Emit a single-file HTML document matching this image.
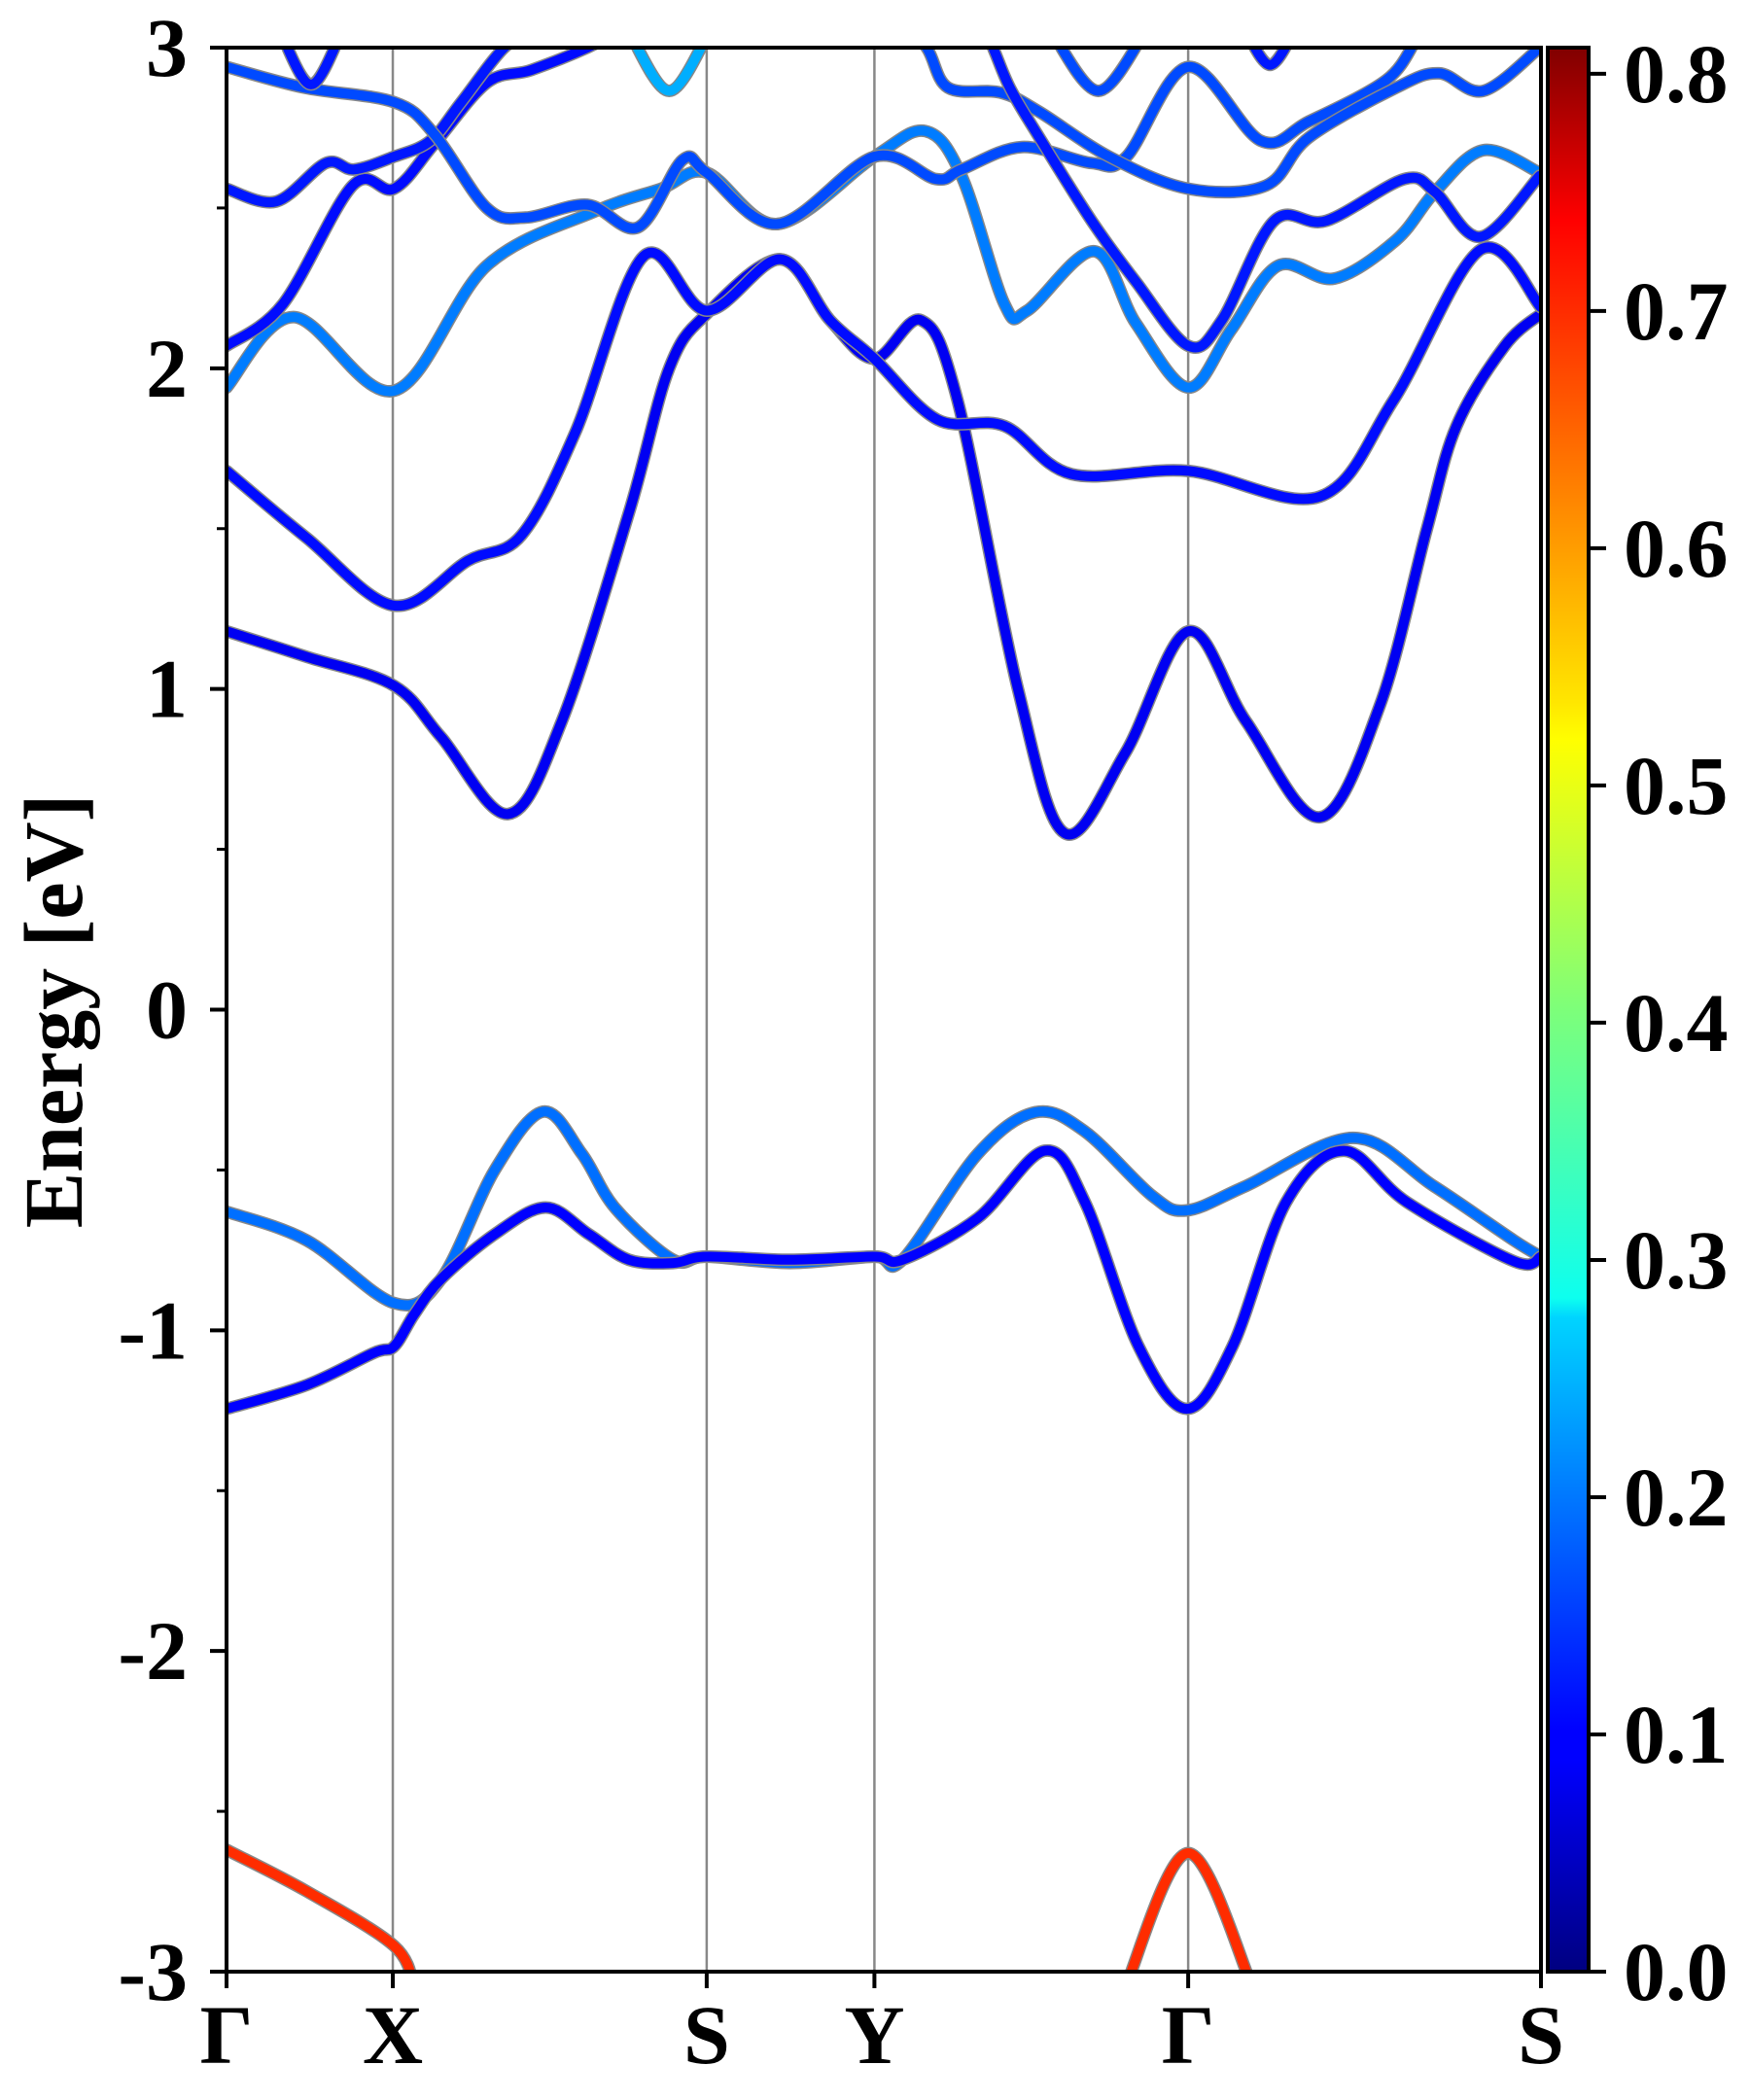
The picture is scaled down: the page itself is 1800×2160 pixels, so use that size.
<!DOCTYPE html>
<html><head><meta charset="utf-8"><title>Band structure</title>
<style>
html,body{margin:0;padding:0;background:#fff;}
svg{display:block;}
text{font-family:"Liberation Serif",serif;font-weight:bold;fill:#000;}
</style></head>
<body>
<svg id="chart" width="1800" height="2160" viewBox="0 0 1800 2160" xmlns="http://www.w3.org/2000/svg">
<defs>
<clipPath id="plotclip"><rect x="233" y="49" width="1352" height="1979"/></clipPath>
<linearGradient id="jet" x1="0" y1="1" x2="0" y2="0">
<stop offset="0" stop-color="#000080"/>
<stop offset="0.11" stop-color="#0000ff"/>
<stop offset="0.125" stop-color="#0000ff"/>
<stop offset="0.34" stop-color="#00d4ff"/>
<stop offset="0.35" stop-color="#0dffef"/>
<stop offset="0.5" stop-color="#7dff7a"/>
<stop offset="0.64" stop-color="#ffff00"/>
<stop offset="0.66" stop-color="#ffe600"/>
<stop offset="0.89" stop-color="#ff1300"/>
<stop offset="0.91" stop-color="#ff0000"/>
<stop offset="1" stop-color="#800000"/>
</linearGradient>
</defs>
<g id="gridlines"></g>
<g id="bands" clip-path="url(#plotclip)"></g>
<g id="axes"></g>
<text transform="translate(84,1040) rotate(-90)" text-anchor="middle" font-size="86">Energy [eV]</text>
<rect x="1592" y="49" width="42" height="1979" fill="url(#jet)" stroke="#000" stroke-width="4"/>
<g id="cbar"></g>
</svg>
<script>
// ---- data ----
const kLabels = ["Γ","X","S","Y","Γ","S"];
const kTicks = [0, 0.1265, 0.3653, 0.4929, 0.7316, 1.0];
const yTicks = [-3,-2,-1,0,1,2,3];
const yMinor = [-2.5,-1.5,-0.5,0.5,1.5,2.5];
const cTicks = [0,0.1,0.2,0.3,0.4,0.5,0.6,0.7,0.8];
const cTickLabels = ["0.0","0.1","0.2","0.3","0.4","0.5","0.6","0.7","0.8"];
// band k positions (path units 0..980) and energies (eV)
const bandK = [
 [0,60,125,160,200,236,265,290,333,358,420,483,504,560,603,640,690,716,760,840,900,960,980],
 [0,60,110,125,140,160,200,238,270,300,333,358,420,483,504,560,610,640,680,716,750,790,833,880,960,980],
 [0,60,125,160,210,250,300,330,358,413,450,483,518,545,590,625,670,717,760,815,860,895,917,953,980],
 [0,60,125,180,220,260,311,358,413,450,483,530,580,630,717,815,870,935,980],
 [0,50,125,194,275,324,358,411,483,521,548,580,597,647,678,717,749,784,826,872,901,937,979],
 [0,42,94,125,155,194,227,269,290],
 [0,37,74,95,125,152,175,207,230],
 [0,58,125,155,194,223,269,307,340,358,411,483,529,548,593,645,671,717,771,807,865,888,900],
 [500,522,538,577,606,658,717,775,807,872,904,937,979,990],
 [555,568,584,606,645,678,717,742,781,820,878,901,935,979],
 [40,63,86],[300,330,360],[615,650,685],[760,778,796],
 [0,60,125,140],[670,717,765]
];
const bandE = [
 [-0.63,-0.72,-0.915,-0.84,-0.50,-0.318,-0.45,-0.62,-0.78,-0.77,-0.79,-0.77,-0.78,-0.45,-0.32,-0.38,-0.58,-0.626,-0.55,-0.40,-0.55,-0.72,-0.77],
 [-1.245,-1.17,-1.07,-1.05,-0.95,-0.84,-0.70,-0.617,-0.70,-0.78,-0.79,-0.77,-0.78,-0.77,-0.78,-0.65,-0.44,-0.60,-1.05,-1.245,-1.05,-0.60,-0.44,-0.60,-0.785,-0.77],
 [1.18,1.10,1.01,0.85,0.61,0.90,1.55,2.00,2.17,2.34,2.15,2.03,2.15,1.90,1.00,0.55,0.80,1.18,0.90,0.60,0.95,1.50,1.82,2.07,2.17],
 [1.68,1.47,1.26,1.40,1.48,1.80,2.35,2.18,2.34,2.15,2.03,1.84,1.82,1.67,1.68,1.60,1.90,2.37,2.19],
 [1.94,2.16,1.93,2.32,2.49,2.56,2.61,2.45,2.66,2.74,2.60,2.20,2.18,2.365,2.14,1.94,2.12,2.32,2.28,2.40,2.55,2.68,2.61],
 [2.07,2.20,2.57,2.56,2.70,2.89,2.93,3.00,3.05],
 [2.56,2.52,2.64,2.62,2.66,2.71,2.83,3.00,3.05],
 [2.94,2.875,2.83,2.73,2.50,2.47,2.51,2.44,2.65,2.61,2.45,2.66,2.59,2.62,2.69,2.64,2.66,2.94,2.71,2.77,2.90,3.03,3.08],
 [3.10,3.00,2.875,2.86,2.80,2.66,2.56,2.57,2.72,2.875,2.92,2.865,3.00,3.05],
 [3.08,3.03,2.875,2.72,2.46,2.27,2.07,2.15,2.46,2.46,2.59,2.55,2.41,2.60],
 [3.05,2.885,3.05],[3.05,2.865,3.05],[3.05,2.865,3.05],[3.05,2.946,3.05],
 [-2.62,-2.75,-2.92,-3.05],[-3.05,-2.63,-3.05]
];
const bandW = [0.19,0.10,0.08,0.11,0.20,0.11,0.12,0.16,0.16,0.12,0.12,0.24,0.16,0.12,0.70,0.70];
// ---- axes ----
const X0=233,X1=1585,Y0=49,Y1=2028,EMIN=-3,EMAX=3,VMAX=0.811;
const xs=k=>X0+k*(X1-X0);
const ys=e=>Y0+(EMAX-e)/(EMAX-EMIN)*(Y1-Y0);
const cy=v=>Y1-v/VMAX*(Y1-Y0);
const NS="http://www.w3.org/2000/svg";
function mk(tag,attrs,parent){const el=document.createElementNS(NS,tag);for(const a in attrs)el.setAttribute(a,attrs[a]);parent.appendChild(el);return el;}
function seg(t,pts){for(let i=0;i<pts.length-1;i++){const a=pts[i],b=pts[i+1];if(t<=b[0])return a[1]+(b[1]-a[1])*(t-a[0])/(b[0]-a[0]);}return pts[pts.length-1][1];}
function jet(v){const t=Math.max(0,Math.min(1,v/VMAX));
 const r=seg(t,[[0,0],[0.35,0],[0.66,1],[0.89,1],[1,0.5]]);
 const g=seg(t,[[0,0],[0.125,0],[0.375,1],[0.64,1],[0.91,0],[1,0]]);
 const b=seg(t,[[0,0.5],[0.11,1],[0.34,1],[0.65,0],[1,0]]);
 return `rgb(${Math.round(r*255)},${Math.round(g*255)},${Math.round(b*255)})`;}
function path(pts){let d=`M${pts[0][0]},${pts[0][1]}`;
 for(let i=0;i<pts.length-1;i++){const p0=pts[i-1]||pts[i],p1=pts[i],p2=pts[i+1],p3=pts[i+2]||p2;
  const c1=[p1[0]+(p2[0]-p0[0])/6,p1[1]+(p2[1]-p0[1])/6],c2=[p2[0]-(p3[0]-p1[0])/6,p2[1]-(p3[1]-p1[1])/6];
  d+=` C${c1[0].toFixed(1)},${c1[1].toFixed(1)} ${c2[0].toFixed(1)},${c2[1].toFixed(1)} ${p2[0].toFixed(1)},${p2[1].toFixed(1)}`;}
 return d;}
const grid=document.getElementById('gridlines');
kTicks.slice(1,-1).forEach((k,i)=>{
 const l=mk('line',{x1:xs(k),x2:xs(k),y1:Y0,y2:Y1,stroke:'#888','stroke-width':2.5},grid);
 
 
});
const bg=document.getElementById('bands');
bandK.forEach((ks,i)=>{
 const pts=ks.map((k,j)=>[xs(k/980),ys(bandE[i][j])]);
 const d=path(pts);
 const o=mk('path',{d:d,fill:'none',stroke:'#888','stroke-width':13,'stroke-linecap':'round','stroke-linejoin':'round'},bg);
 
 
 const p=mk('path',{d:d,fill:'none',stroke:jet(bandW[i]),'stroke-width':10,'stroke-linecap':'round','stroke-linejoin':'round'},bg);
 
 
});
const ax=document.getElementById('axes');
const fr=mk('rect',{x:X0,y:Y0,width:X1-X0,height:Y1-Y0,fill:'none',stroke:'#000','stroke-width':4},ax);


yTicks.forEach(e=>{
 mk('line',{x1:X0-17,x2:X0,y1:ys(e),y2:ys(e),stroke:'#000','stroke-width':4},ax);
 const t=mk('text',{x:193,y:ys(e)+29,'text-anchor':'end','font-size':86},ax);
 t.textContent=String(e);
 
 
});
yMinor.forEach(e=>{mk('line',{x1:X0-10,x2:X0,y1:ys(e),y2:ys(e),stroke:'#000','stroke-width':3},ax);});
kTicks.forEach((k,i)=>{
 mk('line',{x1:xs(k),x2:xs(k),y1:Y1,y2:Y1+17,stroke:'#000','stroke-width':4},ax);
 const t=mk('text',{x:xs(k),y:2122,'text-anchor':'middle','font-size':86},ax);
 t.textContent=kLabels[i];
 
 
});
const cb=document.getElementById('cbar');
cTicks.forEach((v,i)=>{
 mk('line',{x1:1634,x2:1652,y1:cy(v),y2:cy(v),stroke:'#000','stroke-width':4},cb);
 const t=mk('text',{x:1670,y:cy(v)+29,'text-anchor':'start','font-size':86},cb);
 t.textContent=cTickLabels[i];
 
 
});
</script>
</body></html>
